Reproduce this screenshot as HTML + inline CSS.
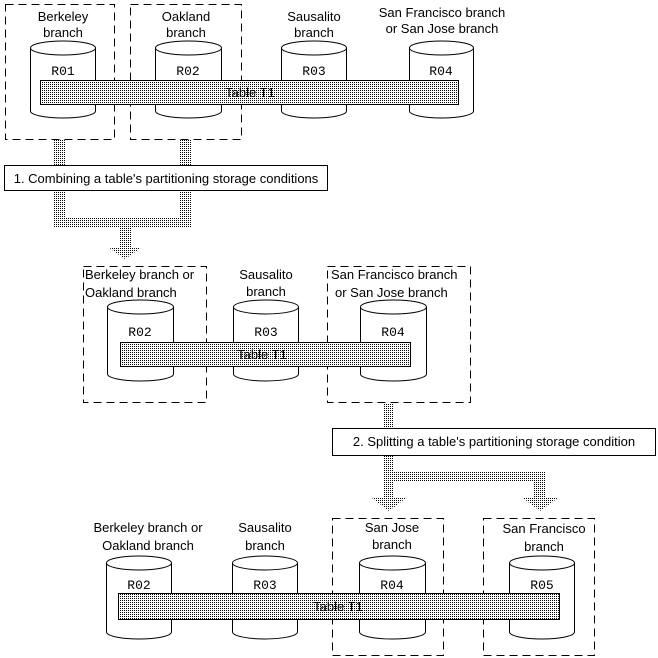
<!DOCTYPE html>
<html><head><meta charset="utf-8"><style>
html,body{margin:0;padding:0;background:#fff}
svg{display:block}
text{font-family:"Liberation Sans",sans-serif;font-size:13px;fill:#000}
.m{font-family:"Liberation Mono",monospace;font-size:13px}
.d{fill:none;stroke:#000;stroke-dasharray:8,5}
.c{fill:#fff;stroke:#000}
.t{fill:url(#p);stroke:#000}
.k{fill:url(#p)}
</style></head><body>
<svg width="658" height="658" viewBox="0 0 658 658" xmlns="http://www.w3.org/2000/svg">
<defs><pattern id="p" width="2" height="2" patternUnits="userSpaceOnUse"><rect width="2" height="2" fill="#fff"/><rect width="1" height="1" fill="#000"/></pattern></defs>

<!-- Section 1 -->
<rect class="d" x="5.5" y="4.5" width="109" height="135"/>
<rect class="d" x="130.5" y="4.5" width="111" height="135"/>
<text x="63" y="21" text-anchor="middle">Berkeley</text><text x="63" y="37" text-anchor="middle">branch</text>
<text x="186" y="21" text-anchor="middle">Oakland</text><text x="186" y="37" text-anchor="middle">branch</text>
<text x="314" y="21" text-anchor="middle">Sausalito</text><text x="314" y="37" text-anchor="middle">branch</text>
<text x="442" y="17" text-anchor="middle">San Francisco branch</text><text x="442" y="33" text-anchor="middle">or San Jose branch</text>
<g class="c">
<path d="M30.5 48 A32.5 7 0 0 1 95.5 48 L95.5 111 A32.5 7 0 0 1 30.5 111Z M30.5 48 A32.5 7 0 0 0 95.5 48"/>
<path d="M155.5 48 A33 7 0 0 1 221.5 48 L221.5 111 A33 7 0 0 1 155.5 111Z M155.5 48 A33 7 0 0 0 221.5 48"/>
<path d="M281.5 48 A32.5 7 0 0 1 346.5 48 L346.5 111 A32.5 7 0 0 1 281.5 111Z M281.5 48 A32.5 7 0 0 0 346.5 48"/>
<path d="M409.5 48 A32 7 0 0 1 473.5 48 L473.5 111 A32 7 0 0 1 409.5 111Z M409.5 48 A32 7 0 0 0 473.5 48"/>
</g>
<text class="m" x="63" y="75" text-anchor="middle">R01</text>
<text class="m" x="188" y="75" text-anchor="middle">R02</text>
<text class="m" x="314" y="75" text-anchor="middle">R03</text>
<text class="m" x="441" y="75" text-anchor="middle">R04</text>
<rect class="t" x="40.5" y="80.5" width="418" height="24"/>
<text x="250" y="97" text-anchor="middle">Table T1</text>

<rect class="k" x="53" y="140" width="12" height="25"/>
<rect class="k" x="180" y="140" width="11" height="25"/>
<rect x="4.5" y="165.5" width="323" height="25" fill="#fff" stroke="#000"/>
<text x="166" y="183" text-anchor="middle">1. Combining a table's partitioning storage conditions</text>
<rect class="k" x="53" y="191" width="12" height="37"/>
<rect class="k" x="180" y="191" width="11" height="37"/>
<rect class="k" x="53" y="217" width="138" height="11"/>
<rect class="k" x="119" y="228" width="12" height="19"/>
<polygon class="k" points="108,247 142,247 125,259"/>

<!-- Section 2 -->
<rect class="d" x="83.5" y="266.5" width="123" height="136"/>
<rect class="d" x="327.5" y="266.5" width="143" height="136"/>
<text x="85" y="279">Berkeley branch or</text><text x="85" y="297">Oakland branch</text>
<text x="266" y="279" text-anchor="middle">Sausalito</text><text x="266" y="296" text-anchor="middle">branch</text>
<text x="331" y="279">San Francisco branch</text><text x="335" y="297">or San Jose branch</text>
<g class="c">
<path d="M107.5 307 A33 7 0 0 1 173.5 307 L173.5 374 A33 7 0 0 1 107.5 374Z M107.5 307 A33 7 0 0 0 173.5 307"/>
<path d="M233.5 307 A32.5 7 0 0 1 298.5 307 L298.5 374 A32.5 7 0 0 1 233.5 374Z M233.5 307 A32.5 7 0 0 0 298.5 307"/>
<path d="M360.5 307 A33 7 0 0 1 426.5 307 L426.5 374 A33 7 0 0 1 360.5 374Z M360.5 307 A33 7 0 0 0 426.5 307"/>
</g>
<text class="m" x="140" y="336" text-anchor="middle">R02</text>
<text class="m" x="266" y="336" text-anchor="middle">R03</text>
<text class="m" x="393" y="336" text-anchor="middle">R04</text>
<rect class="t" x="120.5" y="342.5" width="290" height="24"/>
<text x="262" y="359" text-anchor="middle">Table T1</text>

<rect class="k" x="383" y="403" width="11" height="25"/>
<rect x="332.5" y="428.5" width="323" height="27" fill="#fff" stroke="#000"/>
<text x="494" y="446" text-anchor="middle">2. Splitting a table's partitioning storage condition</text>
<rect class="k" x="383" y="456" width="11" height="42"/>
<rect class="k" x="383" y="471" width="163" height="11"/>
<rect class="k" x="533" y="482" width="13" height="16"/>
<polygon class="k" points="372,498 406,498 389,511"/>
<polygon class="k" points="523,498 558,498 540,511"/>

<!-- Section 3 -->
<rect class="d" x="332.5" y="518.5" width="111" height="137"/>
<rect class="d" x="483.5" y="518.5" width="111" height="137"/>
<text x="148" y="532" text-anchor="middle">Berkeley branch or</text><text x="148" y="550" text-anchor="middle">Oakland branch</text>
<text x="265" y="532" text-anchor="middle">Sausalito</text><text x="265" y="550" text-anchor="middle">branch</text>
<text x="392" y="532" text-anchor="middle">San Jose</text><text x="392" y="549" text-anchor="middle">branch</text>
<text x="544" y="533" text-anchor="middle">San Francisco</text><text x="544" y="551" text-anchor="middle">branch</text>
<g class="c">
<path d="M106.5 563 A32.5 7 0 0 1 171.5 563 L171.5 632 A32.5 7 0 0 1 106.5 632Z M106.5 563 A32.5 7 0 0 0 171.5 563"/>
<path d="M232.5 563 A32.5 7 0 0 1 297.5 563 L297.5 632 A32.5 7 0 0 1 232.5 632Z M232.5 563 A32.5 7 0 0 0 297.5 563"/>
<path d="M359.5 563 A33 7 0 0 1 425.5 563 L425.5 632 A33 7 0 0 1 359.5 632Z M359.5 563 A33 7 0 0 0 425.5 563"/>
<path d="M509.5 563 A32.5 7 0 0 1 574.5 563 L574.5 632 A32.5 7 0 0 1 509.5 632Z M509.5 563 A32.5 7 0 0 0 574.5 563"/>
</g>
<text class="m" x="139" y="589" text-anchor="middle">R02</text>
<text class="m" x="265" y="589" text-anchor="middle">R03</text>
<text class="m" x="392" y="589" text-anchor="middle">R04</text>
<text class="m" x="542" y="589" text-anchor="middle">R05</text>
<rect class="t" x="118.5" y="593.5" width="441" height="26"/>
<text x="338" y="611" text-anchor="middle">Table T1</text>
</svg>
</body></html>
